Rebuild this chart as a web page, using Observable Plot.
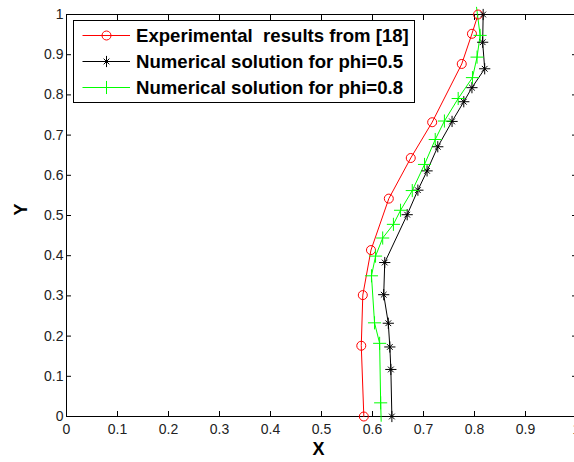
<!DOCTYPE html>
<html><head><meta charset="utf-8">
<script src="https://cdn.jsdelivr.net/npm/d3@7"></script>
<script src="https://cdn.jsdelivr.net/npm/@observablehq/plot@0.6"></script>
<style>
body{margin:0;background:#fff;}
#wrap{position:relative;width:574px;height:462px;overflow:hidden;font-family:"Liberation Sans",Arial,Helvetica,sans-serif;}
#legend{position:absolute;left:73px;top:20px;}
#legend text{white-space:pre;}
</style></head><body><div id="wrap"></div>
<script>
// Experimental results from [18]
const expX = [0.583, 0.578, 0.581, 0.597, 0.632, 0.675, 0.717, 0.775, 0.795, 0.807];
const expY = [0.000, 0.176, 0.302, 0.414, 0.542, 0.643, 0.732, 0.877, 0.952, 1.000];
// Numerical solution for phi=0.5
const phi05X = [0.638, 0.636, 0.634, 0.631, 0.622, 0.624, 0.668, 0.689, 0.707, 0.728, 0.756, 0.779, 0.795, 0.820, 0.816, 0.817];
const phi05Y = [0.000, 0.117, 0.173, 0.232, 0.303, 0.383, 0.502, 0.563, 0.611, 0.671, 0.734, 0.783, 0.818, 0.865, 0.931, 1.000];
// Numerical solution for phi=0.8
const phi08X = [0.617, 0.616, 0.614, 0.604, 0.598, 0.606, 0.620, 0.641, 0.655, 0.678, 0.702, 0.723, 0.741, 0.768, 0.796, 0.805, 0.811, 0.804];
const phi08Y = [-0.012, 0.034, 0.182, 0.233, 0.350, 0.399, 0.444, 0.478, 0.513, 0.562, 0.627, 0.689, 0.735, 0.791, 0.843, 0.894, 0.948, 1.018];

const xTicks = [0, 0.1, 0.2, 0.3, 0.4, 0.5, 0.6, 0.7, 0.8, 0.9, 1];
const yTicks = [0, 0.1, 0.2, 0.3, 0.4, 0.5, 0.6, 0.7, 0.8, 0.9, 1];
const seriesNames = ["Experimental  results from [18]", "Numerical solution for phi=0.5", "Numerical solution for phi=0.8"];
const seriesColors = ["#ff0000", "#000000", "#00ff00"];

const exp = expX.map((x, i) => ({x, y: expY[i]}));
const n05 = phi05X.map((x, i) => ({x, y: phi05Y[i]}));
const n08 = phi08X.map((x, i) => ({x, y: phi08Y[i]}));
const n08m = n08.filter(d => d.y >= 0 && d.y <= 1);

const fmt = d => String(d);
const font = "'Liberation Sans', Arial, Helvetica, sans-serif";

const plot = Plot.plot({
  width: 574, height: 462,
  marginLeft: 66, marginRight: -2, marginTop: 14, marginBottom: 46,
  style: {fontFamily: font, fontSize: "14px", color: "#000", background: "white", overflow: "visible"},
  x: {domain: [0, 1], label: null},
  y: {domain: [0, 1], label: null},
  marks: [
    Plot.frame({stroke: "black", strokeWidth: 1}),
    // labels
    Plot.axisX(xTicks, {anchor: "bottom", tickSize: 0, tickPadding: 8, tickFormat: fmt, label: null, color: "#222", fontSize: 14}),
    Plot.axisY(yTicks, {anchor: "left", tickSize: 0, tickPadding: 3, tickFormat: fmt, label: null, color: "#222", fontSize: 14}),
    // inward ticks on all four sides
    Plot.axisX(xTicks, {anchor: "bottom", tickSize: -5, fill: "none", label: null}),
    Plot.axisX(xTicks, {anchor: "top", tickSize: -5, fill: "none", label: null}),
    Plot.axisY(yTicks, {anchor: "left", tickSize: -5, fill: "none", label: null}),
    Plot.axisY(yTicks, {anchor: "right", tickSize: -5, fill: "none", label: null}),
    // series
    Plot.line(exp, {x: "x", y: "y", stroke: seriesColors[0], strokeWidth: 1}),
    Plot.line(n05, {x: "x", y: "y", stroke: seriesColors[1], strokeWidth: 1}),
    Plot.line(n08, {x: "x", y: "y", stroke: seriesColors[2], strokeWidth: 1}),
    Plot.dot(exp, {x: "x", y: "y", r: 4.5, symbol: "circle", stroke: seriesColors[0], fill: "none", strokeWidth: 1}),
    Plot.dot(n05, {x: "x", y: "y", r: 3.7, symbol: "plus", stroke: seriesColors[1], strokeWidth: 1}),
    Plot.dot(n05, {x: "x", y: "y", r: 2.7, symbol: "times", stroke: seriesColors[1], strokeWidth: 1}),
    Plot.dot(n08m, {x: "x", y: "y", r: 4.3, symbol: "plus", stroke: seriesColors[2], strokeWidth: 1}),
    // axis titles
    Plot.text(["X"], {frameAnchor: "bottom", dx: -3, dy: 38, fontWeight: "bold", fontSize: 18, fill: "#000"}),
    Plot.text(["Y"], {frameAnchor: "left", dx: -45, rotate: -90, fontWeight: "bold", fontSize: 18, fill: "#000"})
  ]
});

const wrap = document.getElementById("wrap");
wrap.appendChild(plot);

// legend box inside the axes
const lw = 342, lh = 83;
const leg = d3.select(wrap).append("svg").attr("id", "legend").attr("width", lw).attr("height", lh);
leg.append("rect").attr("x", 0.5).attr("y", 0.5).attr("width", lw - 1).attr("height", lh - 1)
  .attr("fill", "white").attr("stroke", "black").attr("stroke-width", 1);
const rowsY = [15.5, 41.5, 67.5];
const symbols = [
  [{t: d3.symbolCircle, r: 4.5}],
  [{t: d3.symbolPlus, r: 3.7}, {t: d3.symbolTimes, r: 2.7}],
  [{t: d3.symbolPlus, r: 4.3}]
];
seriesNames.forEach((name, i) => {
  const g = leg.append("g").attr("transform", `translate(0,${rowsY[i]})`);
  g.append("line").attr("x1", 9.5).attr("x2", 57).attr("y1", 0).attr("y2", 0)
    .attr("stroke", seriesColors[i]).attr("stroke-width", 1);
  symbols[i].forEach(s => {
    g.append("path").attr("transform", "translate(33.5,0)")
      .attr("d", d3.symbol(s.t, Math.PI * s.r * s.r)())
      .attr("fill", "none").attr("stroke", seriesColors[i]).attr("stroke-width", 1);
  });
  g.append("text").attr("x", 63).attr("y", 0).attr("dy", "0.35em")
    .attr("font-family", font).attr("font-size", 18.6).attr("font-weight", "bold")
    .attr("fill", "#000").text(name);
});
</script>
</body></html>
